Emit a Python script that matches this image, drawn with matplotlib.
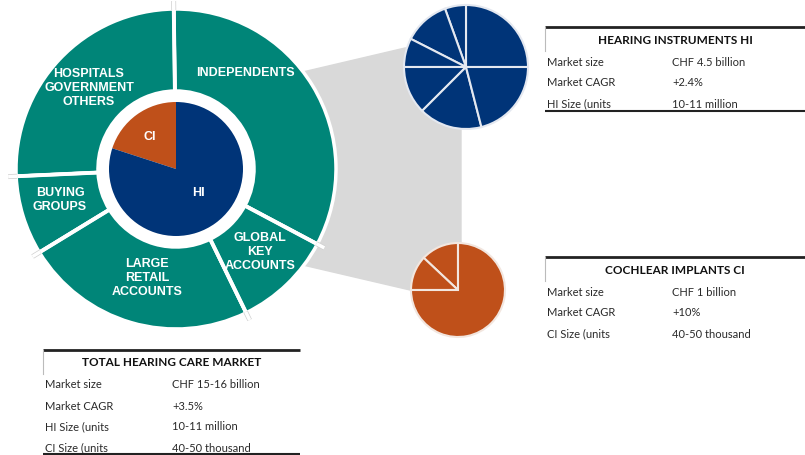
import matplotlib
matplotlib.use("Agg")
import matplotlib.pyplot as plt
import matplotlib.patheffects as pe
import numpy as np

# outer ring: sales channels (share of the ring, counterclockwise from Independents)
channels = ["INDEPENDENTS", "HOSPITALS\nGOVERNMENT\nOTHERS", "BUYING\nGROUPS",
            "LARGE\nRETAIL\nACCOUNTS", "GLOBAL\nKEY\nACCOUNTS"]
channel_share = [33, 25.5, 8, 23.5, 10]

# inner pie: CI vs HI
segments = ["CI", "HI"]
segment_share = [20, 80]

# small pies
hi_slices = [25, 5.5, 12, 7.5, 12.5, 16.5, 21]
ci_slices = [13, 12, 75]

# tables
hi_title = "HEARING INSTRUMENTS HI"
hi_rows = [("Market size", "CHF 4.5 billion"), ("Market CAGR", "+2.4%"),
           ("HI Size (units", "10-11 million")]
ci_title = "COCHLEAR IMPLANTS CI"
ci_rows = [("Market size", "CHF 1 billion"), ("Market CAGR", "+10%"),
           ("CI Size (units", "40-50 thousand")]
total_title = "TOTAL HEARING CARE MARKET"
total_rows = [("Market size", "CHF 15-16 billion"), ("Market CAGR", "+3.5%"),
              ("HI Size (units", "10-11 million"), ("CI Size (units", "40-50 thousand")]

TEAL = "#008578"
NAVY = "#003478"
ORANGE = "#BF501A"
GREY = "#D9D9D9"

W, H = 805, 455
def Y(y):
    return H - y

fig = plt.figure(figsize=(8.05, 4.55), dpi=100)
ax = fig.add_axes([0, 0, 1, 1])

# grey connector behind the pies
poly = plt.Polygon([(290, Y(75)), (405, Y(48)), (461, Y(48)), (461, Y(290)),
                    (410, Y(290)), (290, Y(262))], closed=True, color=GREY, zorder=0)
ax.add_patch(poly)

# big donut
cx, cy = 176, Y(169)
R, r_in, r_pie = 160, 78, 67
start = -28
ax.pie(channel_share, colors=[TEAL] * 5, startangle=start, counterclock=True,
       radius=R, center=(cx, cy), frame=True,
       wedgeprops=dict(width=R - r_in, edgecolor="white", linewidth=2.5))

# separators sticking out of the ring
bounds = start + np.cumsum([0] + channel_share[:-1]) * 3.6
for a in np.radians(bounds):
    c, s = np.cos(a), np.sin(a)
    ax.plot([cx + r_in * c, cx + (R - 1) * c], [cy + r_in * s, cy + (R - 1) * s],
            color="white", lw=2.8, solid_capstyle="butt", zorder=3)
    ax.plot([cx + (R - 1) * c, cx + (R + 8) * c], [cy + (R - 1) * s, cy + (R + 8) * s],
            color="white", lw=2.5, solid_capstyle="butt", zorder=3,
            path_effects=[pe.Stroke(linewidth=3.5, foreground="#CFCFCF"), pe.Normal()])

ax.pie(segment_share, colors=[ORANGE, NAVY], startangle=90, counterclock=True,
       radius=r_pie, center=(cx, cy), frame=True,
       wedgeprops=dict(linewidth=0))

lab = dict(color="white", fontsize=9, fontweight="bold", ha="center", va="center",
           family="Liberation Sans", linespacing=1.2, zorder=5)
label_pos = [(245, 73), (89, 88), (60, 200), (147, 278), (260, 252)]
for name, (x, y) in zip(channels, label_pos):
    ax.text(x, Y(y), name, **lab)
for name, (x, y) in zip(segments, [(150, 137), (198, 193)]):
    ax.text(x, Y(y), name, **lab)

# small pies
ax.pie(hi_slices, colors=[NAVY] * len(hi_slices), startangle=0, counterclock=True,
       radius=62, center=(466, Y(67)), frame=True,
       wedgeprops=dict(edgecolor="#E4E8F0", linewidth=1.5))
ax.pie(ci_slices, colors=[ORANGE] * len(ci_slices), startangle=90, counterclock=True,
       radius=47, center=(458, Y(290)), frame=True,
       wedgeprops=dict(edgecolor="#F2E6DF", linewidth=1.5))

# tables
def table(x0, x1, ytop, title, rows, vx, bottom=None):
    ax.plot([x0, x1], [Y(ytop), Y(ytop)], color="#222222", lw=2, solid_capstyle="butt")
    ax.plot([x0, x0], [Y(ytop), Y(ytop + 24)], color="#BBBBBB", lw=0.8)
    ax.text((x0 + x1) / 2, Y(ytop + 13), title, fontsize=8.5, fontweight="bold",
            family="Lato", color="#111111", ha="center", va="center")
    for i, (k, v) in enumerate(rows):
        yy = Y(ytop + 35 + i * 21)
        ax.text(x0 + 2, yy, k, fontsize=8, family="Lato", color="#2A2A2A", va="center")
        ax.text(vx, yy, v, fontsize=8, family="Lato", color="#2A2A2A", va="center")
    if bottom is not None:
        ax.plot([x0, x1], [Y(bottom), Y(bottom)], color="#222222", lw=1.5,
                solid_capstyle="butt")

table(545, 805, 27, hi_title, hi_rows, 672, bottom=111)
table(545, 805, 257, ci_title, ci_rows, 672)
table(43, 300, 350, total_title, total_rows, 172, bottom=454)

ax.set_xlim(0, W)
ax.set_ylim(0, H)
ax.set_aspect("equal")
ax.axis("off")
fig.savefig("out.png", dpi=100)
